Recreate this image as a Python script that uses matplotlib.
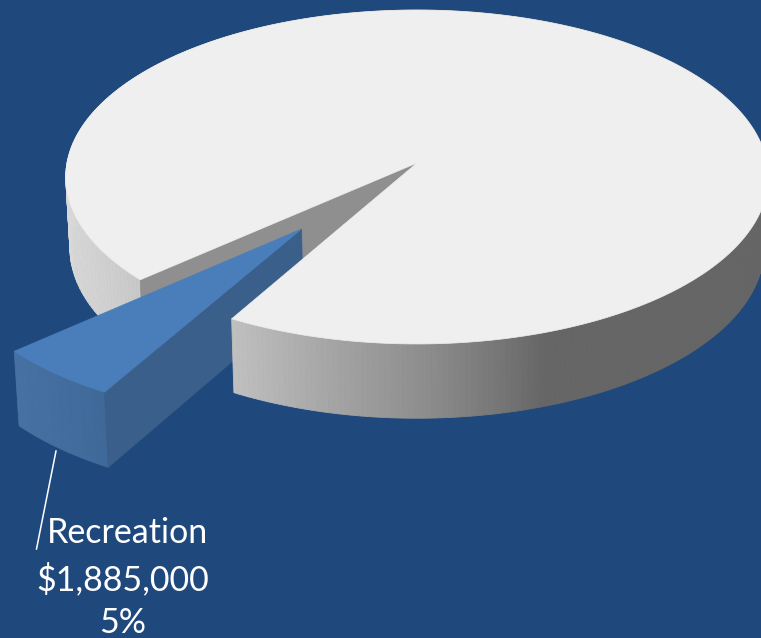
import numpy as np
import matplotlib
matplotlib.use('Agg')
import matplotlib.pyplot as plt
from matplotlib.collections import PolyCollection
from matplotlib.patches import Polygon

labels = ['Recreation', 'Other']
amounts = [1885000]
shares = [5, 95]

bg = '#1f497d'
top_grey = '#efefef'
cut_grey = '#8f8f8f'
top_blue = '#4a7ebb'
cut_blue = '#3a5f8a'

# projection of the tilted disc, in pixels
cx, cy = 417.0, 163.0
rx, ry = 350.0, 165.8
persp = 0.0838
depth = 71.0
explode = 0.5
start = 29.4      # degrees from the front of the disc, going left
foreshorten = 1.05  # slices towards the viewer open up a little
pull_radius = 0.98


def project(X, Y, z=0):
    w = 1 - persp*Y
    sx = cx + rx*(1 - 0.012*z)*X/w
    sy = cy + depth*z + ry*(1 + 0.018*z)*Y/w
    return np.column_stack([sx, sy])


def rim(theta, off=(0, 0), r=1.0):
    t = np.radians(theta)
    return off[0] - r*np.sin(t), off[1] + r*np.cos(t)


def wall(ax, theta, off, colour_at, r=1.0):
    # outer side of a slice, as thin quads shaded by screen x
    X, Y = rim(theta, off, r)
    t = project(X, Y, 0)
    b = project(X, Y, 1)
    quads = [[t[i], t[i+1], b[i+1], b[i]] for i in range(len(theta)-1)]
    colours = [colour_at(0.5*(t[i, 0] + t[i+1, 0])) for i in range(len(theta)-1)]
    ax.add_collection(PolyCollection(quads, facecolors=colours, edgecolors=colours, linewidths=0.6))


def grey_side(x):
    g = np.interp(x, [60, 140, 232, 330, 430, 500, 545, 761],
                  [218, 200, 192, 165, 140, 118, 102, 102])/255
    return (g, g, g)


def blue_side(x):
    f = np.interp(x, [10, 105], [0, 1])
    c0 = np.array([0x47, 0x72, 0xa3])/255
    c1 = np.array([0x3f, 0x69, 0x99])/255
    return tuple(c0 + f*(c1 - c0))


sweep = foreshorten*360*shares[0]/sum(shares)
mid = np.radians(start + sweep/2 + 0.8)
off = (-explode*np.sin(mid), explode*np.cos(mid))

fig = plt.figure(figsize=(7.61, 6.38), dpi=100, facecolor=bg)
ax = fig.add_axes([0, 0, 1, 1])
ax.set_xlim(0, 761)
ax.set_ylim(638, 0)
ax.axis('off')

# far part of the big slice, it sits behind the pulled out one
wall(ax, np.linspace(start + sweep, 180, 120), (0, 0), grey_side)
p1x, p1y = rim(start + sweep)
inner = np.vstack([project(0, 0, 0), project(p1x, p1y, 0), project(p1x, p1y, 1), project(0, 0, 1)])
ax.add_patch(Polygon(inner, facecolor=cut_grey, edgecolor=cut_grey, lw=0.5))

# pulled out slice
arc = np.linspace(start, start + sweep, 30)
wall(ax, arc, off, blue_side, pull_radius)
ex, ey = rim(start, off, pull_radius)
side = np.vstack([project(off[0], off[1], 0), project(ex, ey, 0), project(ex, ey, 1), project(off[0], off[1], 1)])
ax.add_patch(Polygon(side, facecolor=cut_blue, edgecolor=cut_blue, lw=0.5))
ax_, ay_ = rim(arc, off, pull_radius)
ax.add_patch(Polygon(np.vstack([project(off[0], off[1], 0), project(ax_, ay_, 0)]),
                     facecolor=top_blue, edgecolor=top_blue, lw=0.5))

# near part and the top of the big slice
wall(ax, np.linspace(180, 360 + start, 240), (0, 0), grey_side)
big = np.linspace(start + sweep, 360 + start, 500)
bx, by = rim(big)
ax.add_patch(Polygon(np.vstack([project(0, 0, 0), project(bx, by, 0)]),
                     facecolor=top_grey, edgecolor=top_grey, lw=0.5))

# leader line and label
ax.plot([56, 36.5], [451, 549], color='white', lw=1.1)
font = dict(color='white', fontsize=24.5, family='Lato', ha='center', va='baseline')
ax.text(128, 543, labels[0], **font)
ax.text(123, 590, f'${amounts[0]:,}', **font)
ax.text(123, 633, f'{shares[0]}%', **font)

plt.savefig('out.png', dpi=100, facecolor=bg)
